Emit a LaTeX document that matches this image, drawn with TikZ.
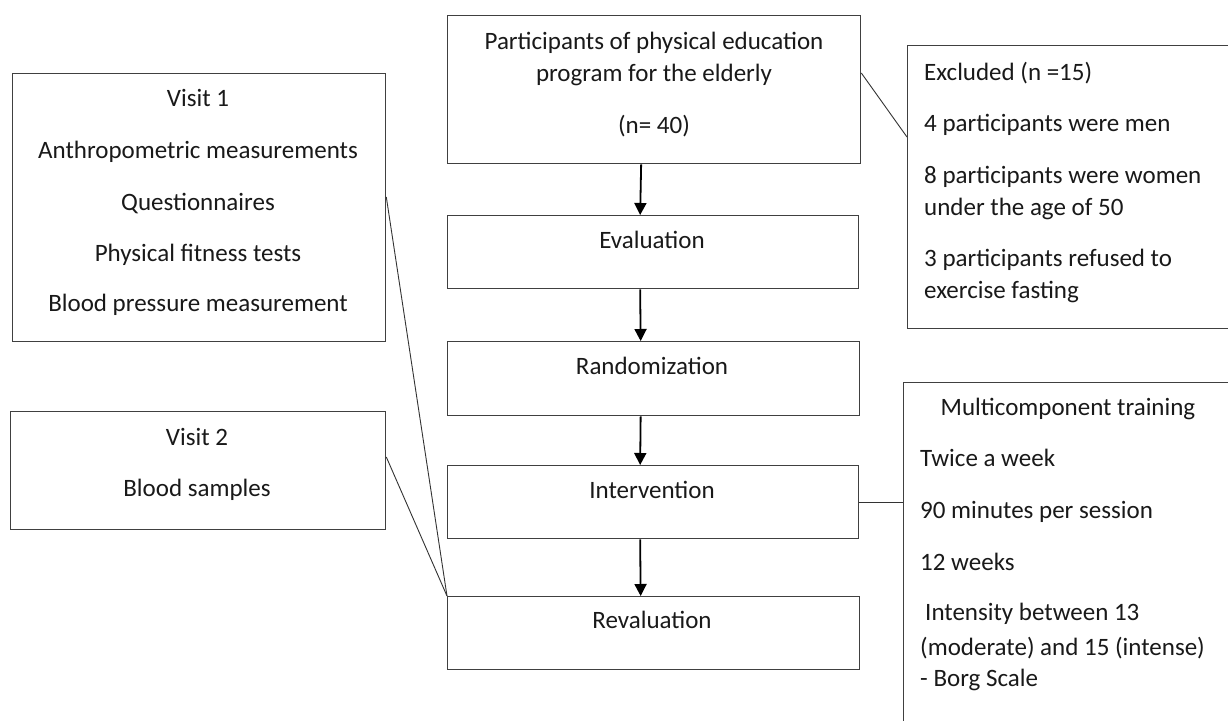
\documentclass[tikz,border=0pt]{standalone}
\usepackage{fontspec}
\setmainfont{Carlito}
\usetikzlibrary{arrows.meta}
\begin{document}
\begin{tikzpicture}[x=1pt,y=-1pt,
  box/.style={draw=black!75, line width=1.3pt, anchor=north west, inner sep=0pt},
  conn/.style={draw=black!80, line width=0.9pt},
  arr/.style={draw=black, line width=1.8pt, -{Triangle[length=12pt,width=12pt]}},
  txt/.style={anchor=base, inner sep=0pt, font=\fontsize{25}{30}\selectfont, text=black!90},
  ltxt/.style={txt, anchor=base west},
]
\useasboundingbox (0,0) rectangle (1228,720);
\clip (0,0) rectangle (1228,720);
\fill[white] (0,0) rectangle (1228,720);

% central column
\node[box, minimum width=413pt, minimum height=148pt] (top) at (447,15) {};
\node[box, minimum width=411pt, minimum height=73pt] (eval) at (447,215) {};
\node[box, minimum width=412pt, minimum height=74pt] (rand) at (447,341) {};
\node[box, minimum width=411pt, minimum height=73pt] (interv) at (447,465) {};
\node[box, minimum width=412pt, minimum height=73pt] (reval) at (447,596) {};

% left column
\node[box, minimum width=373pt, minimum height=268pt] (visit1) at (12,73) {};
\node[box, minimum width=375pt, minimum height=118pt] (visit2) at (10,411) {};

% right column
\node[box, minimum width=400pt, minimum height=283pt] (excl) at (907,45) {};
\node[box, minimum width=400pt, minimum height=420pt] (multi) at (903,382) {};

% arrows
\draw[arr] ([xshift=-13pt]top.south) -- ([xshift=-13pt]eval.north);
\draw[arr] ([xshift=-13pt]eval.south) -- ([xshift=-13pt]rand.north);
\draw[arr] ([xshift=-13pt]rand.south) -- ([xshift=-13pt]interv.north);
\draw[arr] ([xshift=-13pt]interv.south) -- ([xshift=-13pt]reval.north);

% connectors
\draw[conn] ([yshift=-58pt]top.north east) -- ([yshift=-92pt]excl.north west);
\draw[conn] ([yshift=-124pt]visit1.north east) -- (reval.north west);
\draw[conn] ([yshift=-46pt]visit2.north east) -- (reval.north west);
\draw[conn] (interv.east) -- (interv.east -| multi.west);

% texts: central
\node[txt] (t1) at (654,49) {Participants of physical education};
\node[txt] (t2) at (654,81) {program for the elderly};
\node[txt] (t3) at (654,133) {(n= 40)};
\node[txt] (te) at (652,248) {Evaluation};
\node[txt] (tr) at (652,374) {Randomization};
\node[txt] (ti) at (652,498) {Intervention};
\node[txt] (tv) at (652,628) {Revaluation};

% texts: visit 1
\node[txt] (v1a) at (198,106) {Visit 1};
\node[txt] (v1b) at (198,158) {Anthropometric measurements};
\node[txt] (v1c) at (198,210) {Questionnaires};
\node[txt] (v1d) at (198,261) {Physical fitness tests};
\node[txt] (v1e) at (198,311) {Blood pressure measurement};

% texts: visit 2
\node[txt] (v2a) at (197,445) {Visit 2};
\node[txt] (v2b) at (197,496) {Blood samples};

% texts: excluded
\node[ltxt] (ex1) at (924,80) {Excluded (n =15)};
\node[ltxt] (ex2) at (924,131) {4 participants were men};
\node[ltxt] (ex3) at (924,183) {8 participants were women};
\node[ltxt] (ex4) at (924,215) {under the age of 50};
\node[ltxt] (ex5) at (924,266) {3 participants refused to};
\node[ltxt] (ex6) at (924,298) {exercise fasting};

% texts: multicomponent
\node[txt] (m1) at (1068,415) {Multicomponent training};
\node[ltxt] (m2) at (920,466) {Twice a week};
\node[ltxt] (m3) at (920,518) {90 minutes per session};
\node[ltxt] (m4) at (920,570) {12 weeks};
\node[ltxt] (m5) at (925,620) {Intensity between 13};
\node[ltxt] (m6) at (920,655) {(moderate) and 15 (intense)};
\node[ltxt] (m7) at (920,686) {- Borg Scale};
\end{tikzpicture}
\end{document}
